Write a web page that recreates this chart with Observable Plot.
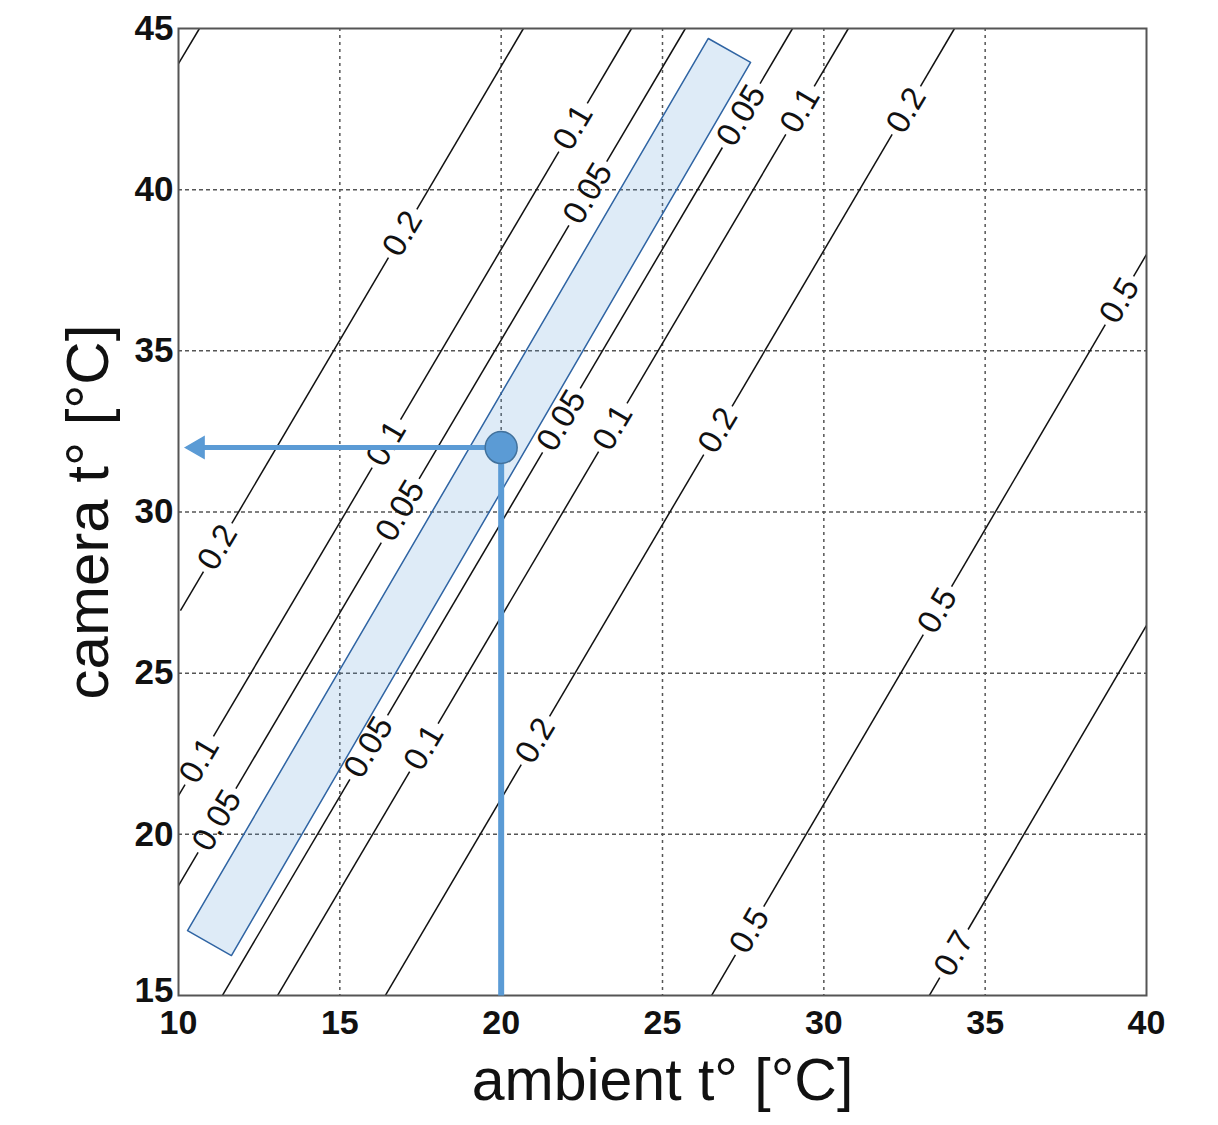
<!DOCTYPE html>
<html><head><meta charset="utf-8">
<script src="https://cdn.jsdelivr.net/npm/d3@7"></script>
<script src="https://cdn.jsdelivr.net/npm/@observablehq/plot@0.6"></script>
<style>body{margin:0;background:#fff}</style>
</head><body><div id="chart"></div>
<script>
// ---- data ----
const xTicks = [10, 15, 20, 25, 30, 35, 40];
const yTicks = [15, 20, 25, 30, 35, 40, 45];
const xLabel = "ambient t° [°C]";
const yLabel = "camera t° [°C]";

// contour lines (straight segments): id, level, endpoints in (ambient, camera)
const contourIds    = ["0.5L", "0.2L", "0.1L", "0.05L", "0.05R", "0.1R", "0.2R", "0.5R", "0.7R"];
const contourLevels = ["0.5", "0.2", "0.1", "0.05", "0.05", "0.1", "0.2", "0.5", "0.7"];
const contourA1 = [10.0, 10.06, 10.0, 10.0, 11.36, 13.07, 16.41, 26.52, 33.27];
const contourC1 = [43.91, 26.94, 21.20, 18.41, 15.0, 15.0, 15.0, 15.0, 15.0];
const contourA2 = [10.65, 20.69, 24.04, 25.71, 29.03, 30.76, 34.05, 40.0, 40.0];
const contourC2 = [45.0, 45.0, 45.0, 45.0, 45.0, 45.0, 45.0, 37.99, 26.48];

// inline contour labels: contour id and camera temperature where the label sits
const labelIds = ["0.2L", "0.2L", "0.1L", "0.1L", "0.1L", "0.05L", "0.05L", "0.05L",
                  "0.05R", "0.05R", "0.05R", "0.1R", "0.1R", "0.1R",
                  "0.2R", "0.2R", "0.2R", "0.5R", "0.5R", "0.5R", "0.7R"];
const labelC = [38.64, 28.90, 41.93, 32.12, 22.29, 39.88, 30.04, 20.43,
                42.3, 32.84, 22.7, 42.46, 32.62, 22.69,
                42.46, 32.53, 22.91, 36.56, 26.94, 17.01, 16.3];

// highlighted optimal band (rectangle corners)
const bandA = [26.42, 27.73, 11.64, 10.28, 26.42];
const bandC = [44.69, 43.95, 16.24, 17.01, 44.69];

// reading example
const readAmbient = [20];
const readCamera = [32];
const arrowTipAmbient = [10.25];
const bottomCamera = [15];

// ---- build tables ----
const contours = contourIds.map((id, i) => ({
  id, level: contourLevels[i],
  a1: contourA1[i], c1: contourC1[i], a2: contourA2[i], c2: contourC2[i]
}));

const W = 1218, H = 1125, mL = 178, mR = 72, mT = 28, mB = 130;
const kx = (W - mL - mR) / (xTicks[xTicks.length - 1] - xTicks[0]);
const ky = (H - mT - mB) / (yTicks[yTicks.length - 1] - yTicks[0]);
const labelFont = 33;

const ambientAt = (c, cam) => c.a1 + (cam - c.c1) / (c.c2 - c.c1) * (c.a2 - c.a1);

const labels = labelIds.map((id, i) => {
  const c = contours.find(d => d.id === id);
  const ang = -Math.atan2((c.c2 - c.c1) * ky, (c.a2 - c.a1) * kx) * 180 / Math.PI;
  return {id, text: c.level, camera: labelC[i], ambient: ambientAt(c, labelC[i]), rotate: ang};
});

// break each contour where its labels sit
const segments = [];
contours.forEach(c => {
  const len = Math.hypot((c.a2 - c.a1) * kx, (c.c2 - c.c1) * ky);
  const sin = (c.c2 - c.c1) * ky / len;
  const gaps = labels.filter(l => l.id === c.id).map(l => {
    const digits = l.text.replace(/[^0-9]/g, "").length;
    const w = labelFont * (digits * 0.556 + 0.278);
    const dc = (w / 2 + 5) * sin / ky;
    return [l.camera - dc, l.camera + dc];
  }).sort((p, q) => p[0] - q[0]);
  let start = c.c1;
  gaps.forEach(([g0, g1]) => {
    if (g0 > start) segments.push({a1: ambientAt(c, start), c1: start, a2: ambientAt(c, g0), c2: g0});
    start = Math.max(start, g1);
  });
  if (start < c.c2) segments.push({a1: ambientAt(c, start), c1: start, a2: c.a2, c2: c.c2});
});

const band = bandA.map((a, i) => ({a, c: bandC[i]}));
const reading = readAmbient.map((a, i) => ({a, c: readCamera[i], tip: arrowTipAmbient[i], bottom: bottomCamera[i]}));

const chart = Plot.plot({
  width: W, height: H,
  marginLeft: mL, marginRight: mR, marginTop: mT, marginBottom: mB,
  x: {domain: [xTicks[0], xTicks[xTicks.length - 1]]},
  y: {domain: [yTicks[0], yTicks[yTicks.length - 1]]},
  style: {fontFamily: "'Liberation Sans', Arial, Helvetica, sans-serif", background: "#fff", color: "#111"},
  marks: [
    Plot.ruleX(xTicks.slice(1, -1), {stroke: "#555", strokeWidth: 1.5, strokeDasharray: "3,4"}),
    Plot.ruleY(yTicks.slice(1, -1), {stroke: "#555", strokeWidth: 1.5, strokeDasharray: "4,3"}),
    Plot.link(segments, {x1: "a1", y1: "c1", x2: "a2", y2: "c2", stroke: "#111", strokeWidth: 1.5, clip: true}),
    Plot.text(labels, {x: "ambient", y: "camera", text: "text", rotate: "rotate",
      fontSize: labelFont, fill: "#111"}),
    Plot.line(band, {x: "a", y: "c", fill: "#5b9bd5", fillOpacity: 0.2, stroke: "#2f64a3", strokeWidth: 1.5}),
    Plot.frame({stroke: "#555", strokeWidth: 2}),
    Plot.axisX(xTicks, {tickSize: 0, tickPadding: 14, fontSize: 34, fontWeight: "bold", label: null}),
    Plot.axisY(yTicks.slice(1), {tickSize: 0, tickPadding: 5, fontSize: 35, fontWeight: "bold", label: null}),
    Plot.axisY(yTicks.slice(0, 1), {tickSize: 0, tickPadding: 5, dy: -5, fontSize: 35, fontWeight: "bold", label: null}),
    Plot.text([xLabel], {frameAnchor: "bottom", textAnchor: "middle", lineAnchor: "bottom", dy: 104, fontSize: 59, text: d => d}),
    Plot.text([yLabel], {frameAnchor: "left", textAnchor: "middle", lineAnchor: "middle", dx: -90, rotate: -90, fontSize: 60, text: d => d}),
    Plot.link(reading, {x1: "a", y1: "c", x2: "a", y2: "bottom", stroke: "#5b9bd5", strokeWidth: 6}),
    Plot.link(reading, {x1: "a", y1: "c", x2: d => d.tip + 0.4, y2: "c", stroke: "#5b9bd5", strokeWidth: 5}),
    Plot.dot(reading, {x: d => d.tip + 0.35, y: "c", symbol: "triangle", r: 8, rotate: -90, fill: "#5b9bd5", stroke: "#5b9bd5"}),
    Plot.dot(reading, {x: "a", y: "c", r: 16, fill: "#5b9bd5", stroke: "#41719c", strokeWidth: 1.5})
  ]
});
document.getElementById("chart").appendChild(chart);
</script>
</body></html>
